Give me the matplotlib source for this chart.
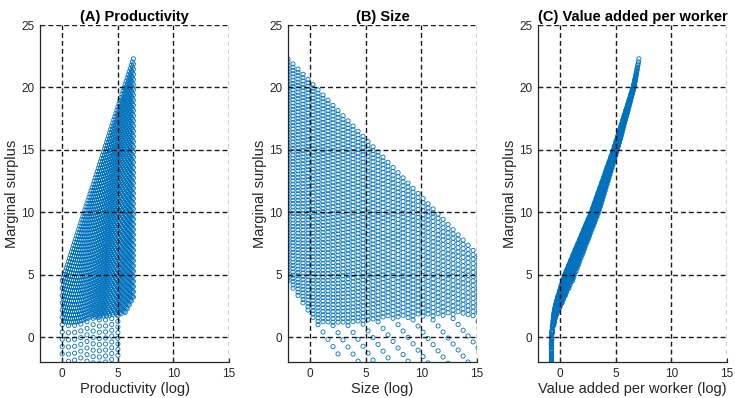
import numpy as np
import matplotlib
matplotlib.use("Agg")
import matplotlib.pyplot as plt

plt.rcParams['font.family'] = ['Liberation Sans', 'DejaVu Sans']

# ---------------- data ----------------
# grid of firm states: log productivity levels and log size levels
prod_levels = np.linspace(0.0, 6.4, 70)
size_levels = -2.0 + 0.45 * np.arange(50)

# marginal-surplus surface anchors
surplus_origin = 4.5          # surplus at lowest productivity, smallest size
surplus_prod_slope = 2.78     # d surplus / d productivity at smallest size
size_slope_lowprod = -1.30    # d surplus / d size at lowest productivity
size_slope_highprod = -0.922  # d surplus / d size at highest productivity
size_cap = [2.6, 2.55]        # largest size of dense states: intercept, slope in productivity
size_cap_sparse = [2.6, 3.1]  # largest size of sparse states
sparse_floor = [1.0, 0.16]    # below this surplus (intercept, slope in productivity) states are sparse
sparse_step = 6               # only every 6th productivity level reaches the sparse region
sparse_prod_max = 5.1         # sparse states stop at this productivity

# value added per worker band, as a function of marginal surplus
va_surplus = [-2.5, -2.0, 0.0, 1.5, 2.5, 5.0, 10.0, 15.0, 20.0, 22.3]
va_low = [-0.80, -0.79, -0.80, -0.65, -0.45, 0.30, 2.40, 4.15, 5.70, 6.98]
va_high = [-0.74, -0.73, -0.60, -0.25, 0.30, 1.30, 3.45, 5.15, 6.65, 7.08]

titles = ["(A) Productivity", "(B) Size", "(C) Value added per worker"]
xlabels = ["Productivity (log)", "Size (log)", "Value added per worker (log)"]
ylabel = "Marginal surplus"
xticks = [0, 5, 10, 15]
yticks = [0, 5, 10, 15, 20, 25]

# ---------------- build the point cloud ----------------
Z, N = np.meshgrid(prod_levels, size_levels)
IZ = np.meshgrid(np.arange(len(prod_levels)), size_levels)[0]
zmax = prod_levels.max()
slope_n = size_slope_lowprod + (size_slope_highprod - size_slope_lowprod) * Z / zmax
S = surplus_origin + surplus_prod_slope * Z + slope_n * (N - size_levels.min())
nmax = size_cap[0] + size_cap[1] * Z
nmax_sparse = size_cap_sparse[0] + size_cap_sparse[1] * Z
floor = sparse_floor[0] + sparse_floor[1] * Z
sparse_col = (IZ % sparse_step == 0) & (Z <= sparse_prod_max)
dense = (N <= nmax + 1e-9) & (S >= floor)
sparse = sparse_col & (N <= nmax_sparse + 1e-9) & (S >= -2.3) & ~dense
keep = dense | sparse
z_pts = Z[keep]
n_pts = N[keep]
s_pts = S[keep]
frac = np.clip((n_pts - size_levels.min()) / (nmax[keep] - size_levels.min()), 0, 1)
lo = np.interp(s_pts, va_surplus, va_low)
hi = np.interp(s_pts, va_surplus, va_high)
v_pts = lo + (hi - lo) * (1 - frac)

xs = [z_pts, n_pts, v_pts]

# ---------------- draw ----------------
W, H = 735, 398
fig = plt.figure(figsize=(W / 100, H / 100), dpi=100)
lefts = [40, 288, 538]
axw, axb, axh = 189, 36, 337
blue = '#0072BD'
gray = '#262626'

for i in range(3):
    ax = fig.add_axes([lefts[i] / W, axb / H, axw / W, axh / H])
    ax.scatter(xs[i], s_pts, s=9, facecolors='none', edgecolors=blue,
               linewidths=0.6, zorder=2, clip_on=True)
    ax.set_xlim(-2, 15)
    ax.set_ylim(-2, 25)
    ax.set_xticks(xticks)
    ax.set_yticks(yticks)
    ax.grid(True, color='black', linestyle=(0, (3.5, 2.2)), linewidth=1.0, alpha=0.9)
    ax.set_axisbelow(False)
    for sp in ['top', 'right']:
        ax.spines[sp].set_visible(False)
    for sp in ['left', 'bottom']:
        ax.spines[sp].set_color(gray)
        ax.spines[sp].set_linewidth(0.9)
    ax.tick_params(direction='in', length=3, width=0.8, colors=gray,
                   labelsize=8.5, pad=4)
    ax.set_title(titles[i], fontsize=10.5, fontweight='bold', pad=3, color='black')
    ax.set_xlabel(xlabels[i], fontsize=10.5, color=gray, labelpad=2)
    ax.set_ylabel(ylabel, fontsize=10.5, color=gray, labelpad=1.5)

fig.savefig('out.png', dpi=100)
